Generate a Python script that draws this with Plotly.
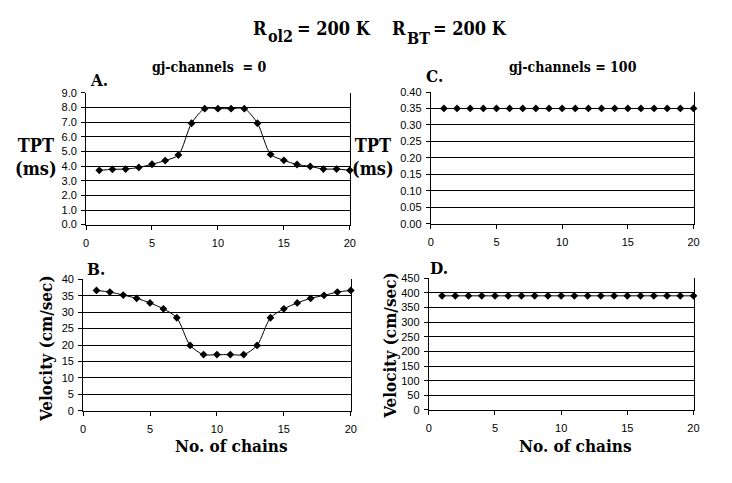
import plotly.graph_objects as go

# ---------------- data ----------------
chains = list(range(1, 21))
tpt_gj0 = [3.71, 3.78, 3.8, 3.91, 4.13, 4.38, 4.76, 6.93, 7.93, 7.93,
           7.93, 7.93, 6.93, 4.8, 4.4, 4.11, 3.98, 3.8, 3.8, 3.71]
vel_gj0 = [36.6, 36.1, 35.2, 34.2, 32.8, 31.0, 28.3, 19.9, 17.1, 17.1,
           17.1, 17.1, 19.9, 28.3, 31.0, 32.8, 34.2, 35.1, 36.1, 36.6]
tpt_gj100 = [0.35] * 20
vel_gj100 = [390] * 20

x_ticks = [0, 5, 10, 15, 20]
tpt_gj0_ticks = [0, 1, 2, 3, 4, 5, 6, 7, 8, 9]
vel_gj0_ticks = [0, 5, 10, 15, 20, 25, 30, 35, 40]
tpt_gj100_ticks = [0, 0.05, 0.10, 0.15, 0.20, 0.25, 0.30, 0.35, 0.40]
vel_gj100_ticks = [0, 50, 100, 150, 200, 250, 300, 350, 400, 450]

W, H = 732, 483
def px(x):
    return x / W
def py(y):
    return 1 - y / H

fig = go.Figure()

panels = [
    ("", tpt_gj0, tpt_gj0_ticks, ".1f", (76, 343), (81, 216)),
    ("2", vel_gj0, vel_gj0_ticks, "d", (73, 344), (272, 407)),
    ("3", tpt_gj100, tpt_gj100_ticks, ".2f", (425, 691), (80, 215)),
    ("4", vel_gj100, vel_gj100_ticks, "d", (423, 691), (271, 406)),
]

tickfont = dict(family="Arial", size=11, color="#000")

for suf, ydata, yticks, fmt, (x0, x1), (y0, y1) in panels:
    fig.add_trace(go.Scatter(
        x=chains, y=ydata, mode="lines+markers",
        line=dict(color="black", width=1, shape="spline", smoothing=0.8),
        marker=dict(symbol="diamond", size=6, color="black"),
        xaxis="x" + suf, yaxis="y" + suf, showlegend=False,
        cliponaxis=False,
    ))
    fig.layout["xaxis" + suf] = dict(
        domain=[px(x0), px(x1)], range=[0, 20], anchor="y" + suf,
        tickvals=x_ticks, ticks="outside", ticklen=4, tickcolor="black",
        showline=True, linecolor="black", linewidth=1, showgrid=False,
        zeroline=False, tickfont=tickfont, ticklabelstandoff=4,
    )
    fig.layout["yaxis" + suf] = dict(
        domain=[py(y1), py(y0)], range=[0, yticks[-1]], anchor="x" + suf,
        tickvals=yticks, tickformat=fmt, ticks="outside", ticklen=4,
        tickcolor="black", showline=True, linecolor="black", linewidth=1,
        mirror=True, showgrid=True, gridcolor="black", gridwidth=1,
        zeroline=False, tickfont=tickfont, ticklabelstandoff=2,
    )

serif = "DejaVu Serif Condensed"
ann = []
def text(x, y, s, size, angle=0, xanchor="center", fam=serif):
    ann.append(dict(x=px(x), y=py(y), xref="paper", yref="paper", text=s,
                    showarrow=False, xanchor=xanchor, yanchor="middle",
                    textangle=angle, align="center",
                    font=dict(family=fam, size=size, color="black",
                              weight="bold")))

# Title pieces
text(243, 15, "R", 18, xanchor="left")
text(258, 23, "ol2", 16, xanchor="left")
text(288, 15, "= 200 K", 18, xanchor="left")
text(384, 15, "R", 18, xanchor="left")
text(399, 25, "BT", 16, xanchor="left")
text(425, 15, "= 200 K", 18, xanchor="left")

text(200, 54, "gj-channels  = 0", 14)
text(569, 54, "gj-channels = 100", 14)

text(89, 68, "A.", 17)
text(86, 261, "B.", 17)
text(429, 64, "C.", 17)
text(433, 260, "D.", 17)

text(25, 147, "TPT<br>(ms)", 18)
text(367, 147, "TPT<br>(ms)", 18)

text(36, 343, "Velocity (cm/sec)", 17, angle=-90)
text(383, 340, "Velocity (cm/sec)", 17, angle=-90)

text(223, 443, "No. of chains", 17)
text(572, 443, "No. of chains", 17)

fig.update_layout(
    width=W, height=H, margin=dict(l=0, r=0, t=0, b=0),
    paper_bgcolor="white", plot_bgcolor="white",
    annotations=ann, showlegend=False,
)

fig.write_html("out.html")
